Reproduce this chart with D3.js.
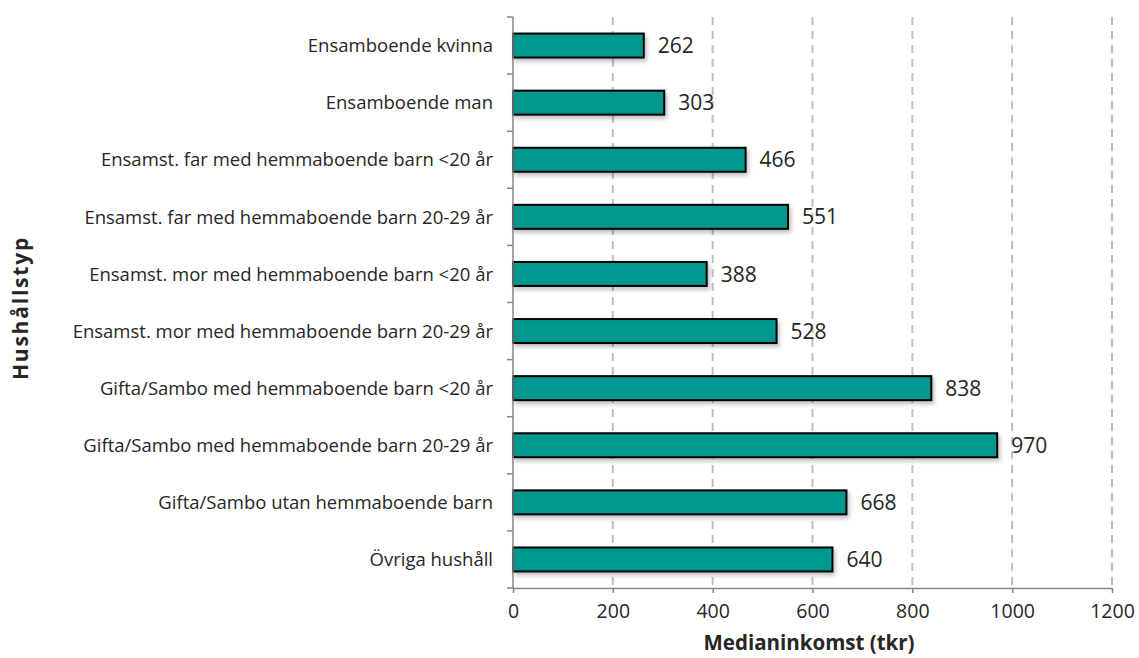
<!DOCTYPE html>
<html>
<head>
<meta charset="utf-8">
<script src="https://cdn.jsdelivr.net/npm/d3@7"></script>
<style>
  body { margin: 0; background: #fff; }
  text { font-family: "Open Sans", sans-serif; fill: #262626; }
</style>
</head>
<body>
<svg></svg>
<script>
(function (d3) {
    'use strict';
    const width = 1139;
    const height = 658;

    // data
    const categories = [
        "Ensamboende kvinna",
        "Ensamboende man",
        "Ensamst. far med hemmaboende barn <20 år",
        "Ensamst. far med hemmaboende barn 20-29 år",
        "Ensamst. mor med hemmaboende barn <20 år",
        "Ensamst. mor med hemmaboende barn 20-29 år",
        "Gifta/Sambo med hemmaboende barn <20 år",
        "Gifta/Sambo med hemmaboende barn 20-29 år",
        "Gifta/Sambo utan hemmaboende barn",
        "Övriga hushåll"
    ];
    const values = [262, 303, 466, 551, 388, 528, 838, 970, 668, 640];
    const xTicks = [0, 200, 400, 600, 800, 1000, 1200];

    const margin = {top: 17, right: 27, bottom: 70, left: 513};
    const svg = d3.select('svg').attr('width', width).attr('height', height);

    const x = d3.scaleLinear().domain([0, 1200]).range([margin.left, width - margin.right]);
    const y = d3.scaleBand().domain(categories)
        .range([margin.top, height - margin.bottom]).paddingInner(0.58).paddingOuter(0.29);

    const defs = svg.append('defs');
    const f = defs.append('filter').attr('id', 'shadow')
        .attr('x', '-5%').attr('y', '-30%').attr('width', '110%').attr('height', '170%');
    f.append('feDropShadow').attr('dx', 2).attr('dy', 3).attr('stdDeviation', 2)
        .attr('flood-color', '#000').attr('flood-opacity', 0.25);

    // gridlines
    svg.append('g').selectAll('line').data(xTicks.slice(1)).enter().append('line')
        .attr('x1', d => x(d)).attr('x2', d => x(d))
        .attr('y1', margin.top).attr('y2', height - margin.bottom)
        .attr('stroke', '#bfbfbf').attr('stroke-width', 2).attr('stroke-dasharray', '8,6');

    // bars
    svg.append('g').selectAll('rect').data(values).enter().append('rect')
        .attr('x', x(0))
        .attr('y', (d, i) => y(categories[i]))
        .attr('width', d => x(d) - x(0))
        .attr('height', y.bandwidth())
        .attr('fill', '#009790')
        .attr('stroke', '#000').attr('stroke-width', 2)
        .attr('filter', 'url(#shadow)');

    // value labels
    svg.append('g').selectAll('text').data(values).enter().append('text')
        .attr('x', d => x(d) + 14)
        .attr('y', (d, i) => y(categories[i]) + y.bandwidth() / 2)
        .attr('dy', '0.36em')
        .attr('font-size', 21)
        .text(d => d);

    // x axis
    const xAxis = svg.append('g')
        .attr('transform', 'translate(0,' + (height - margin.bottom) + ')')
        .call(d3.axisBottom(x).tickValues(xTicks).tickFormat(d3.format('d'))
            .tickSize(5).tickSizeOuter(0).tickPadding(11));
    xAxis.select('.domain').attr('stroke', '#868686').attr('stroke-width', 1.5);
    xAxis.selectAll('.tick line').attr('stroke', '#868686').attr('stroke-width', 1.5);
    xAxis.selectAll('.tick text').attr('font-size', 19.5).attr('font-family', '"Open Sans", sans-serif').attr('fill', '#262626');

    // y axis: ticks at category boundaries
    const yAxis = svg.append('g').attr('transform', 'translate(' + x(0) + ',0)');
    const step = y.step();
    const bounds = d3.range(categories.length + 1).map(i => margin.top + i * step);
    yAxis.append('line')
        .attr('x1', 0).attr('x2', 0)
        .attr('y1', margin.top).attr('y2', height - margin.bottom)
        .attr('stroke', '#868686').attr('stroke-width', 1.5);
    yAxis.selectAll('.bt').data(bounds).enter().append('line')
        .attr('x1', -6).attr('x2', 0)
        .attr('y1', d => d).attr('y2', d => d)
        .attr('stroke', '#868686').attr('stroke-width', 1.5);

    // category labels
    svg.append('g').selectAll('text').data(categories).enter().append('text')
        .attr('x', margin.left - 20)
        .attr('y', d => y(d) + y.bandwidth() / 2)
        .attr('dy', '0.36em')
        .attr('text-anchor', 'end')
        .attr('font-size', 18.5)
        .text(d => d);

    // axis titles
    svg.append('text')
        .attr('x', 809).attr('y', 650)
        .attr('text-anchor', 'middle')
        .attr('font-size', 20.5).attr('font-weight', 'bold')
        .text('Medianinkomst (tkr)');
    svg.append('text')
        .attr('transform', 'translate(28,308) rotate(-90)')
        .attr('text-anchor', 'middle')
        .attr('font-size', 21).attr('font-weight', 'bold')
        .attr('letter-spacing', 1.8)
        .text('Hushållstyp');
}(d3));
</script>
</body>
</html>
